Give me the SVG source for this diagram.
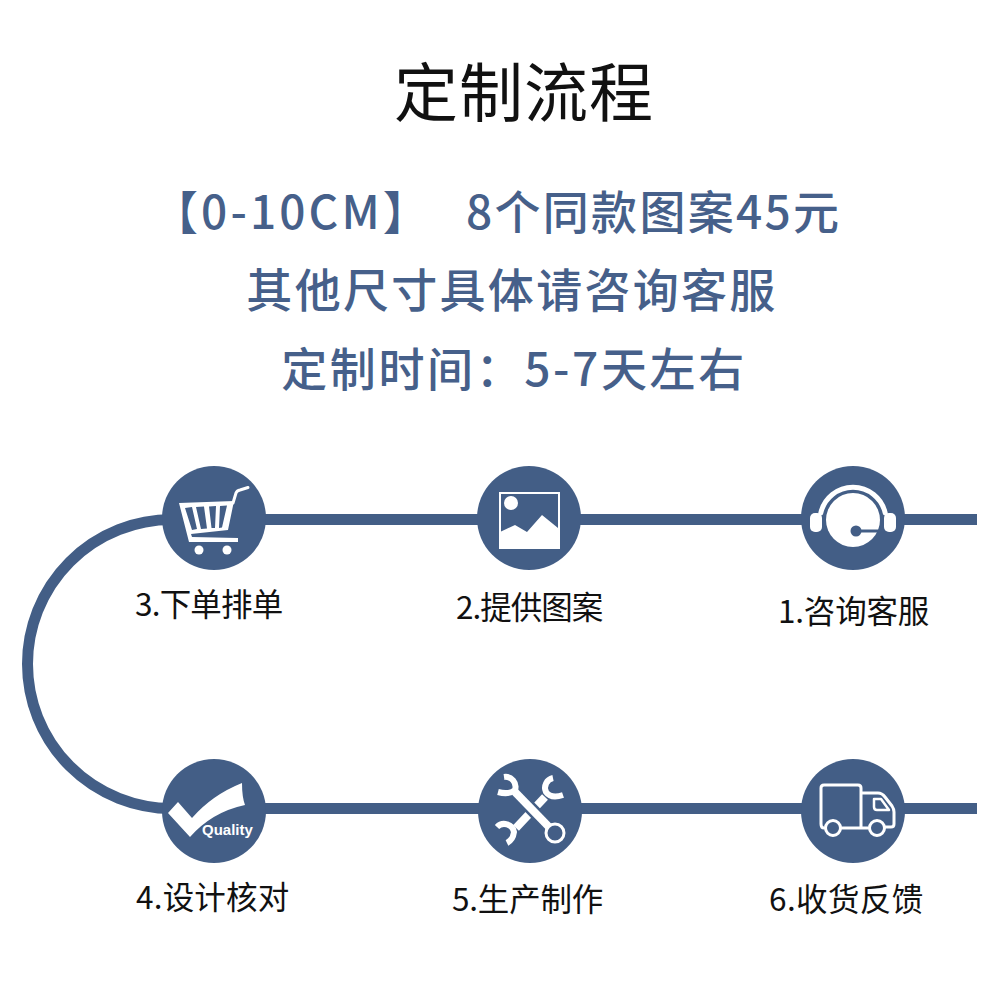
<svg xmlns="http://www.w3.org/2000/svg" width="1000" height="1000" viewBox="0 0 1000 1000">
<style>
text{font-family:"Noto Sans CJK SC","Liberation Sans",sans-serif}
.h{fill:#46608a;font-size:46px;font-weight:500;letter-spacing:2.300px}
.l{fill:#111;font-size:31.500px;letter-spacing:-.6px}
.c{fill:#435e86}
.w{fill:#fff}
.s{fill:none;stroke:#fff;stroke-linecap:round;stroke-linejoin:round}
.ln{fill:none;stroke:#435e86;stroke-width:11}
</style>
<rect width="1000" height="1000" fill="#fff"/>
<text id="title" x="524" y="116" text-anchor="middle" font-size="64" fill="#111" style="letter-spacing:1px">定制流程</text>
<text class="h" x="152" y="229" style="letter-spacing:3.100px">【0-10CM】</text>
<text class="h" x="466" y="229">8个同款图案45元</text>
<text class="h" x="512" y="306.500" text-anchor="middle">其他尺寸具体请咨询客服</text>
<text class="h" x="514" y="386" text-anchor="middle" style="letter-spacing:2.600px">定制时间：5-7天左右</text>
<g id="connectors">
<path class="ln" d="M977 519.500H172A144.500 144.500 0 0 0 172 808.500H977"/>
</g>
<g id="n3">
<circle class="c" cx="214" cy="518" r="52"/>
<path class="w" d="M179 503L234 501L228 530L191 534L192 537L238 538V542L189 542Z"/>
<path class="c" d="M185 508L192 507L197 529L192 530ZM196 507L204 506.500L207 528.500L201 529ZM209 506.500L216 506L215 528L211.500 528ZM220 506L227 505.500L222 527.500L219 528Z"/>
<path class="s" stroke-width="3" d="M233 503L236 493Q237 490.500 240 490L248 487.500"/>
<circle class="w" cx="199" cy="550" r="4.500"/>
<circle class="w" cx="227" cy="550" r="4.500"/>
<text class="l" x="135" y="616" style="letter-spacing:-.8px">3.下单排单</text>
</g>
<g id="n2">
<circle class="c" cx="529" cy="518" r="52"/>
<rect x="500" y="493" width="59" height="55" fill="none" stroke="#fff" stroke-width="2"/>
<path class="w" d="M500 532L515 525L527 532L542 515L558 528V548H500Z"/>
<circle class="w" cx="511" cy="503" r="7"/>
<text class="l" x="456" y="619" style="letter-spacing:-1px">2.提供图案</text>
</g>
<g id="n1">
<circle class="c" cx="853" cy="518" r="52"/>
<circle class="w" cx="853" cy="520" r="27"/>
<path class="s" stroke-width="5" d="M820.800 513A33 33 0 0 1 885.200 513"/>
<rect class="w" x="810" y="513" width="12" height="19" rx="5"/>
<rect class="w" x="884" y="513" width="12" height="19" rx="5"/>
<path d="M856 531H879" stroke="#435e86" stroke-width="3" fill="none"/>
<circle class="c" cx="856" cy="531" r="5.500"/>
<text class="l" x="778" y="623" style="letter-spacing:-.2px">1.咨询客服</text>
</g>
<g id="n4">
<circle class="c" cx="214" cy="811" r="52"/>
<path class="w" d="M168 813L178 802L192 818Q212 795 242 783Q242 797 245 805Q212 812 190 837Z"/>
<text x="202" y="835" font-size="15" font-weight="700" fill="#fff" style="font-family:'Liberation Sans',sans-serif">Quality</text>
<text class="l" x="136" y="909" style="letter-spacing:.2px">4.设计核对</text>
</g>
<g id="n5">
<circle class="c" cx="530" cy="811" r="52"/>
<path class="s" stroke-width="8" d="M545 797L516 828" style="stroke-linecap:butt"/>
<path class="s" stroke-width="6" d="M553 778A10 10 0 0 0 546 792Q551 799 563 795" style="stroke-linecap:butt"/>
<path class="s" stroke-width="6" d="M497 827A10 10 0 0 1 514 832Q513 840 507 843" style="stroke-linecap:butt"/>
<path d="M515 792L549 827" stroke="#435e86" stroke-width="13" fill="none"/>
<path d="M515 792L549 827" stroke="#fff" stroke-width="8" fill="none"/>
<path class="s" stroke-width="6" d="M504 777A10 10 0 0 1 515 790Q509 795 498 792" style="stroke-linecap:butt"/>
<circle cx="555" cy="833" r="9" fill="#435e86" stroke="#fff" stroke-width="3"/>
<text class="l" x="452" y="911" style="letter-spacing:-.2px">5.生产制作</text>
</g>
<g id="n6">
<circle class="c" cx="853" cy="811" r="52"/>
<path class="s" stroke-width="3" d="M824 828Q821 828 821 824V788Q821 785 824 785H858Q861 785 861 788V828H841M861 793H878Q882 793 885 797L892 806Q894 809 894 812V824Q894 827 891 827H886M861 828H868"/>
<path class="s" stroke-width="2.500" d="M874 799H881L889 810H877Q874 810 874 807Z"/>
<circle cx="833" cy="828" r="7.500" fill="#435e86" stroke="#fff" stroke-width="3"/>
<circle cx="877" cy="828" r="7.500" fill="#435e86" stroke="#fff" stroke-width="3"/>
<text class="l" x="769" y="911" style="letter-spacing:.4px">6.收货反馈</text>
</g>
</svg>
